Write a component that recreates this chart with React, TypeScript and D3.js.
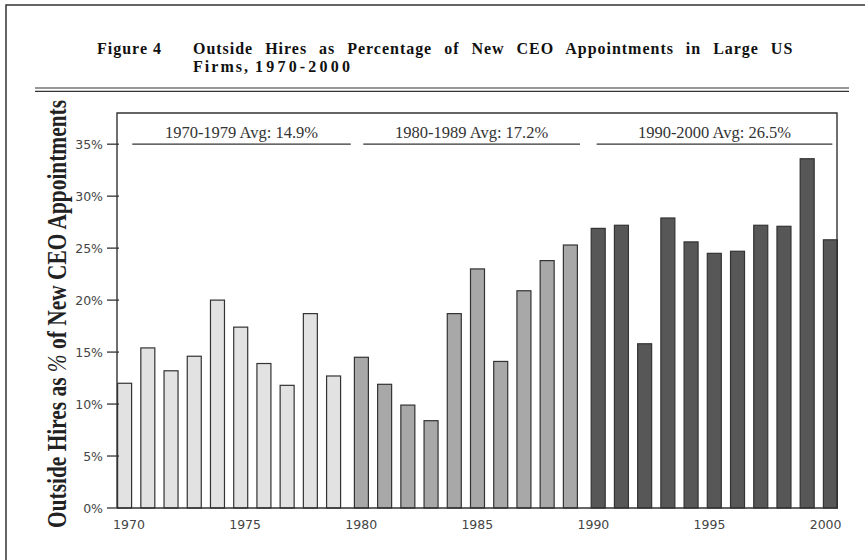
import React from "react";
import * as d3 from "d3";

// ---- data ----
const years70s = [1970, 1971, 1972, 1973, 1974, 1975, 1976, 1977, 1978, 1979];
const values70s = [12.0, 15.4, 13.2, 14.6, 20.0, 17.4, 13.9, 11.8, 18.7, 12.7];
const years80s = [1980, 1981, 1982, 1983, 1984, 1985, 1986, 1987, 1988, 1989];
const values80s = [14.5, 11.9, 9.9, 8.4, 18.7, 23.0, 14.1, 20.9, 23.8, 25.3];
const years90s = [1990, 1991, 1992, 1993, 1994, 1995, 1996, 1997, 1998, 1999, 2000];
const values90s = [26.9, 27.2, 15.8, 27.9, 25.6, 24.5, 24.7, 27.2, 27.1, 33.6, 25.8];

const avgLabels = ["1970-1979 Avg: 14.9%", "1980-1989 Avg: 17.2%", "1990-2000 Avg: 26.5%"];
const avgSpanStart = [1970.14, 1980.09, 1990.14];
const avgSpanEnd = [1979.55, 1989.42, 2000.29];
const avgLineLevel = 35;

const yTicks = [0, 5, 10, 15, 20, 25, 30, 35];
const xTicks = [1970, 1975, 1980, 1985, 1990, 1995, 2000];

const titleFigure = "Figure 4";
const titleLine1 = "Outside Hires as Percentage of New CEO Appointments in Large US";
const titleLine2a = "Firms,";
const titleLine2b = "1970-2000";

const seriesFills = ["#e2e2e2", "#a8a8a8", "#575757"];

export default function App() {
  const W = 865, H = 560;
  const left = 117, right = 837, top = 113, bottom = 508;

  const x = d3.scaleLinear().domain([1970, 2000]).range([129, 825.6]);
  const y = d3.scaleLinear().domain([0, 38]).range([bottom, top]);
  const offset = d3.scalePoint<number>().domain([0, 1, 2]).range([-4.4, 4.8]);
  const barW = 14;

  const series = [
    { years: years70s, values: values70s },
    { years: years80s, values: values80s },
    { years: years90s, values: values90s },
  ];

  const serif = "'Liberation Serif', 'Times New Roman', serif";
  const sans = "'DejaVu Sans', Verdana, sans-serif";

  return (
    <svg width={W} height={H} style={{ position: "absolute", left: 0, top: 0, background: "#fff" }}>
      <rect x={0} y={0} width={W} height={H} fill="#fff" />
      {/* outer border */}
      <path d={`M6,${H} L6,5 L${W},5`} fill="none" stroke="#333" strokeWidth={1.5} />

      {/* title */}
      <text x={97} y={54} fontFamily={serif} fontWeight="bold" fontSize={16} fill="#111"
        textLength={64} lengthAdjust="spacing">{titleFigure}</text>
      <text x={193} y={54} fontFamily={serif} fontWeight="bold" fontSize={16} fill="#111"
        letterSpacing={0.7} wordSpacing={7} textLength={600} lengthAdjust="spacing">{titleLine1}</text>
      <text x={193} y={72} fontFamily={serif} fontWeight="bold" fontSize={16} fill="#111"
        textLength={55} lengthAdjust="spacing">{titleLine2a}</text>
      <text x={255} y={72} fontFamily={serif} fontWeight="bold" fontSize={16} fill="#111"
        textLength={95} lengthAdjust="spacing">{titleLine2b}</text>

      {/* double rule */}
      <line x1={35} x2={849} y1={88} y2={88} stroke="#333" strokeWidth={1.2} />
      <line x1={35} x2={849} y1={91.3} y2={91.3} stroke="#333" strokeWidth={1.2} />

      {/* y axis title */}
      <text transform={`translate(66,314) rotate(-90)`} textAnchor="middle" fontFamily={serif}
        fontWeight="bold" fontSize={27} fill="#222" textLength={428} lengthAdjust="spacingAndGlyphs">
        Outside Hires as <tspan fontStyle="italic" fontWeight="normal">%</tspan> of New CEO Appointments
      </text>

      {/* bars */}
      {series.map((s, si) =>
        s.years.map((yr, i) => {
          const cx = x(yr) + (offset(si) as number);
          const v = s.values[i];
          return (
            <rect key={`${si}-${yr}`} x={cx - barW / 2} y={y(v)} width={barW} height={bottom - y(v)}
              fill={seriesFills[si]} stroke="#333" strokeWidth={1.2} />
          );
        })
      )}

      {/* frame & axes */}
      <path d={`M${left},${bottom} L${left},${top} L${right},${top} L${right},${bottom}`}
        fill="none" stroke="#333" strokeWidth={1.4} />
      <line x1={left} x2={right + 1} y1={bottom} y2={bottom} stroke="#333" strokeWidth={1.5} />

      {/* y ticks */}
      {yTicks.map((t) => (
        <g key={t}>
          <line x1={107} x2={left + 2} y1={y(t)} y2={y(t)} stroke="#333" strokeWidth={1.3} />
          <text x={103} y={y(t)} dy="0.36em" textAnchor="end" fontFamily={sans} fontSize={12.5} fill="#444">
            {t}%
          </text>
        </g>
      ))}

      {/* x tick labels */}
      {xTicks.map((t) => (
        <text key={t} x={x(t)} y={529} textAnchor="middle" fontFamily={sans} fontSize={12.5} fill="#444">
          {t}
        </text>
      ))}

      {/* decade averages */}
      {avgLabels.map((lab, i) => {
        const x1 = x(avgSpanStart[i]);
        const x2 = x(avgSpanEnd[i]);
        const ly = y(avgLineLevel);
        return (
          <g key={lab}>
            <line x1={x1} x2={x2} y1={ly} y2={ly} stroke="#333" strokeWidth={1.3} />
            <text x={(x1 + x2) / 2} y={ly - 6.5} textAnchor="middle" fontFamily={serif} fontSize={16.5} fill="#333">
              {lab}
            </text>
          </g>
        );
      })}
    </svg>
  );
}
